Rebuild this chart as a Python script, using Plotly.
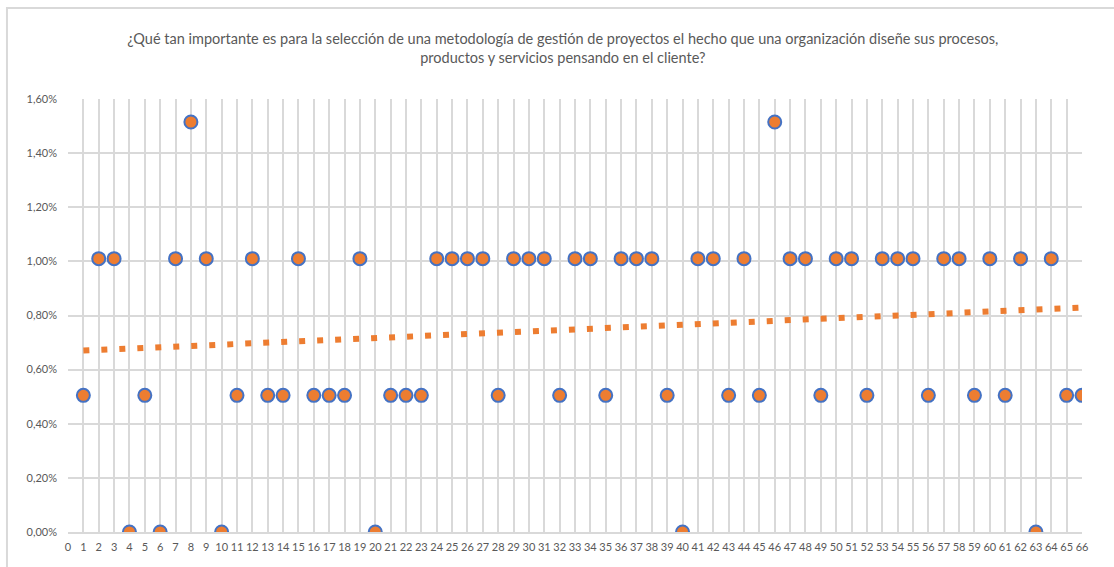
import numpy as np
import plotly.graph_objects as go

# Respondent index and share of answers for each one
respondents = list(range(1, 67))
shares = [
    0.00505, 0.0101, 0.0101, 0.0, 0.00505, 0.0, 0.0101, 0.01515, 0.0101, 0.0,
    0.00505, 0.0101, 0.00505, 0.00505, 0.0101, 0.00505, 0.00505, 0.00505, 0.0101, 0.0,
    0.00505, 0.00505, 0.00505, 0.0101, 0.0101, 0.0101, 0.0101, 0.00505, 0.0101, 0.0101,
    0.0101, 0.00505, 0.0101, 0.0101, 0.00505, 0.0101, 0.0101, 0.0101, 0.00505, 0.0,
    0.0101, 0.0101, 0.00505, 0.0101, 0.00505, 0.01515, 0.0101, 0.0101, 0.00505, 0.0101,
    0.0101, 0.00505, 0.0101, 0.0101, 0.0101, 0.00505, 0.0101, 0.0101, 0.00505, 0.0101,
    0.00505, 0.0101, 0.0, 0.0101, 0.00505, 0.00505,
]
x_ticks = list(range(0, 67))
y_ticks = [0.0, 0.002, 0.004, 0.006, 0.008, 0.010, 0.012, 0.014, 0.016]

title_text = ("¿Qué tan importante es para la selección de una metodología de gestión de proyectos "
              "el hecho que una organización diseñe sus procesos,<br>productos y servicios pensando en el cliente?")

# Linear trendline fitted to the series
slope, intercept = np.polyfit(respondents, shares, 1)
trend_x = [respondents[0], respondents[-1]]
trend_y = [slope * v + intercept for v in trend_x]

GRID = "#d9d9d9"
TEXT = "#595959"
FONT = "Lato, Roboto, Arial, sans-serif"

fig = go.Figure()
fig.add_trace(go.Scatter(
    x=trend_x, y=trend_y, mode="lines",
    line=dict(color="#ED7D31", width=6, dash="6px,12px"),
    hoverinfo="skip", showlegend=False,
))
fig.add_trace(go.Scatter(
    x=respondents, y=shares, mode="markers",
    marker=dict(size=13, color="#ED7D31", line=dict(color="#4472C4", width=2)),
    showlegend=False,
))

fig.update_layout(
    width=1114, height=567,
    margin=dict(l=68, r=32, t=99, b=35),
    paper_bgcolor="white", plot_bgcolor="white",
    separators=",.",
    font=dict(family=FONT, color=TEXT, size=11),
    title=dict(text=title_text, x=0.488, xref="paper", xanchor="center",
               y=0.922, yref="container", yanchor="middle",
               font=dict(family=FONT, size=14.5, color=TEXT)),
    xaxis=dict(range=[0, 66], tickmode="array", tickvals=x_ticks,
               ticktext=[str(v) for v in x_ticks],
               showgrid=True, gridcolor=GRID, gridwidth=2,
               showline=True, linecolor=GRID, linewidth=2,
               zeroline=False, ticks="", ticklabelstandoff=4,
               tickfont=dict(size=11, color=TEXT), fixedrange=True),
    yaxis=dict(range=[0, 0.016], tickmode="array", tickvals=y_ticks,
               tickformat=".2%", showgrid=True, gridcolor=GRID, gridwidth=2,
               showline=False, zeroline=False, ticks="", ticklabelstandoff=10,
               tickfont=dict(size=11, color=TEXT), fixedrange=True),
    shapes=[dict(type="rect", xref="paper", yref="paper",
                 x0=-0.0602, x1=1.0335, y0=-0.0878, y1=1.2102,
                 line=dict(color=GRID, width=2), layer="below")],
)

fig.write_html("out.html")
